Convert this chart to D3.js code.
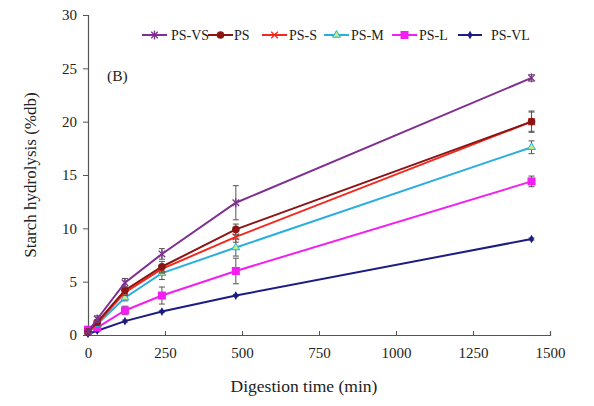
<!DOCTYPE html>
<html>
<head>
<meta charset="utf-8">
<script src="https://cdn.jsdelivr.net/npm/d3@7"></script>
<style>
  body { margin: 0; background: #fff; }
  svg text { font-family: "Liberation Serif", "Times New Roman", serif; fill: #222; }
</style>
</head>
<body>
<svg id="chart"></svg>
<script>
// digestion times (min)
const times = [0, 30, 120, 240, 480, 1440];

const seriesNames = ["PS-VS", "PS", "PS-S", "PS-M", "PS-L", "PS-VL"];
const psVS = [0.3, 1.5, 4.9, 7.6, 12.4, 24.1];
const ps   = [0.3, 1.2, 4.2, 6.4, 9.9, 20.0];
const psS  = [0.3, 1.1, 4.0, 6.2, 9.2, 20.0];
const psM  = [0.3, 1.0, 3.5, 5.8, 8.2, 17.6];
const psL  = [0.5, 0.7, 2.3, 3.7, 6.0, 14.4];
const psVL = [0.1, 0.4, 1.3, 2.2, 3.7, 9.0];

// standard deviations
const errVS = [0.1, 0.3, 0.4, 0.5, 1.6, 0.3];
const errPS = [0.1, 0.2, 0.3, 0.5, 0.5, 1.0];
const errS  = [0.1, 0.2, 0.3, 0.4, 0.5, 0.9];
const errM  = [0.1, 0.2, 0.3, 0.6, 0.8, 0.6];
const errL  = [0.1, 0.2, 0.4, 0.8, 1.2, 0.5];
const errVL = [0.05, 0.1, 0.1, 0.1, 0.1, 0.1];

const xTicks = [0, 250, 500, 750, 1000, 1250, 1500];
const yTicks = [0, 5, 10, 15, 20, 25, 30];

const W = 594, H = 406;
const svg = d3.select("#chart").attr("width", W).attr("height", H);

const x = d3.scaleLinear().domain([0, 1500]).range([88, 550]);
const y = d3.scaleLinear().domain([0, 30]).range([335, 15]);

// axes
const xAxis = svg.append("g")
    .attr("transform", "translate(0,335)")
    .call(d3.axisBottom(x).tickValues(xTicks).tickFormat(d3.format("d")).tickSize(-4).tickPadding(12));
const yAxis = svg.append("g")
    .attr("transform", "translate(88,0)")
    .call(d3.axisLeft(y).tickValues(yTicks).tickSize(5).tickPadding(6));
[xAxis, yAxis].forEach(g => {
    g.select(".domain").attr("stroke", "#555").attr("stroke-width", 1.2);
    g.selectAll(".tick line").attr("stroke", "#555");
    g.selectAll(".tick text").attr("font-size", 15).attr("fill", "#222")
        .style("font-family", "Liberation Serif, serif");
});

svg.append("text").attr("x", 304).attr("y", 392).attr("text-anchor", "middle")
    .attr("font-size", 17.5).text("Digestion time (min)");
svg.append("text").attr("transform", "translate(36,175) rotate(-90)")
    .attr("text-anchor", "middle").attr("font-size", 17).text("Starch hydrolysis (%db)");
svg.append("text").attr("x", 107).attr("y", 81).attr("font-size", 15.5).text("(B)");

const series = [
    {name: seriesNames[0], vals: psVS, err: errVS, color: "#7f2f8f", marker: "star"},
    {name: seriesNames[1], vals: ps,   err: errPS, color: "#8b1414", marker: "circle"},
    {name: seriesNames[2], vals: psS,  err: errS,  color: "#f5281e", marker: "cross"},
    {name: seriesNames[3], vals: psM,  err: errM,  color: "#2aaee0", marker: "triangle"},
    {name: seriesNames[4], vals: psL,  err: errL,  color: "#f21ef2", marker: "square"},
    {name: seriesNames[5], vals: psVL, err: errVL, color: "#1c1c84", marker: "diamond"}
];

function drawMarker(g, type, cx, cy, color) {
    if (type === "circle") {
        g.append("circle").attr("cx", cx).attr("cy", cy).attr("r", 3.8).attr("fill", color);
    } else if (type === "square") {
        g.append("rect").attr("x", cx - 4).attr("y", cy - 4).attr("width", 8).attr("height", 8).attr("fill", color);
    } else if (type === "diamond") {
        g.append("path").attr("d", d3.symbol(d3.symbolDiamond, 22)()).attr("transform", `translate(${cx},${cy})`).attr("fill", color);
    } else if (type === "triangle") {
        g.append("path").attr("d", d3.symbol(d3.symbolTriangle, 26)()).attr("transform", `translate(${cx},${cy})`)
            .attr("fill", "#b9f08a").attr("stroke", color).attr("stroke-width", 1);
    } else if (type === "cross") {
        g.append("path").attr("d", d3.symbol(d3.symbolX, 30)()).attr("transform", `translate(${cx},${cy})`)
            .attr("fill", "none").attr("stroke", color).attr("stroke-width", 1.3);
    } else if (type === "star") {
        g.append("path").attr("d", d3.symbol(d3.symbolX, 30)()).attr("transform", `translate(${cx},${cy})`)
            .attr("fill", "none").attr("stroke", color).attr("stroke-width", 1.3);
        g.append("line").attr("x1", cx).attr("x2", cx).attr("y1", cy - 4.5).attr("y2", cy + 4.5)
            .attr("stroke", color).attr("stroke-width", 1.3);
    }
}

const line = d3.line().x(d => x(d[0])).y(d => y(d[1]));

// draw bottom series first so PS-VS sits on top
series.slice().reverse().forEach(s => {
    const g = svg.append("g");
    const pts = times.map((t, i) => [t, s.vals[i], s.err[i]]);
    // error bars
    pts.forEach(p => {
        const cx = x(p[0]);
        const y1 = y(p[1] + p[2]), y2 = y(Math.max(0, p[1] - p[2]));
        g.append("line").attr("x1", cx).attr("x2", cx).attr("y1", y1).attr("y2", y2)
            .attr("stroke", "#555").attr("stroke-width", 1);
        [y1, y2].forEach(yy => g.append("line").attr("x1", cx - 3).attr("x2", cx + 3)
            .attr("y1", yy).attr("y2", yy).attr("stroke", "#555").attr("stroke-width", 1));
    });
    g.append("path").datum(pts).attr("d", line).attr("fill", "none")
        .attr("stroke", s.color).attr("stroke-width", 2);
    pts.forEach(p => drawMarker(g, s.marker, x(p[0]), y(p[1]), s.color));
});

// legend
const legX = [142, 208, 262, 324, 392, 458];
const legLen = [25, 25, 25, 25, 25, 24];
const legTextX = [171, 234, 289, 351, 419, 491];
series.forEach((s, i) => {
    const g = svg.append("g");
    g.append("line").attr("x1", legX[i]).attr("x2", legX[i] + legLen[i]).attr("y1", 35).attr("y2", 35)
        .attr("stroke", s.color).attr("stroke-width", 2);
    drawMarker(g, s.marker, legX[i] + legLen[i] / 2, 35, s.color);
    g.append("text").attr("x", legTextX[i]).attr("y", 40).attr("font-size", 14).text(s.name);
});
</script>
</body>
</html>
